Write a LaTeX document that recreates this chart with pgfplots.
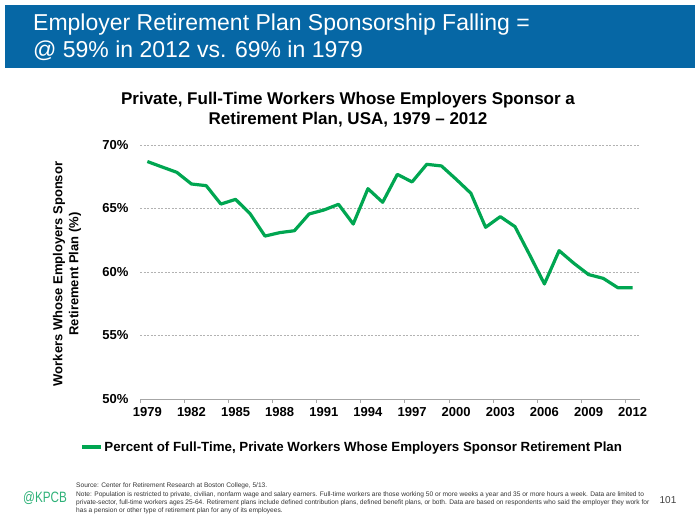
\documentclass[border=0pt]{standalone}
\usepackage{fontspec}
\setmainfont{Liberation Sans}
\usepackage{pgfplots}
\pgfplotsset{compat=1.18}
\definecolor{hdrblue}{RGB}{6,103,165}
\definecolor{lgreen}{RGB}{0,166,81}
\definecolor{kpcb}{RGB}{46,177,120}
\begin{document}
\begin{tikzpicture}
\path[use as bounding box] (0,0) rectangle (700bp,-525bp);
\fill[hdrblue] (5bp,-5bp) rectangle (695bp,-68bp);
\node[anchor=north west, align=left, text=white, inner sep=0pt,
  font=\fontsize{23bp}{27bp}\selectfont] at (33bp,-14bp)
  {Employer Retirement Plan Sponsorship Falling =\\@ 59\% in 2012 vs. 69\% in 1979};
\node[align=center, font=\bfseries\fontsize{17bp}{20bp}\selectfont, inner sep=0pt]
  at (348bp,-110bp) {Private, Full-Time Workers Whose Employers Sponsor a\\Retirement Plan, USA, 1979 -- 2012};
\node[rotate=90, align=center, font=\bfseries\fontsize{13bp}{16bp}\selectfont, inner sep=0pt]
  at (67bp,-274bp) {Workers Whose Employers Sponsor\\Retirement Plan (\%)};
\begin{axis}[
  at={(140bp,-399bp)}, anchor=south west,
  scale only axis, width=500bp, height=254bp,
  xmin=1978.5, xmax=2012.5, ymin=50, ymax=70,
  xtick={1979,1982,...,2012},
  xticklabels={1979,1982,1985,1988,1991,1994,1997,2000,2003,2006,2009,2012},
  ytick={50,55,60,65,70},
  yticklabel={\pgfmathprintnumber{\tick}\%},
  axis x line*=bottom, axis y line*=left,
  y axis line style={draw=none},
  x axis line style={-, draw=gray!70, line width=0.8bp},
  major tick length=0pt,
  extra x ticks={1978.5,1981.5,...,2011.5},
  extra x tick labels={},
  extra x tick style={major tick length=3.5bp, xtick align=outside, grid=none, tick style={draw=gray!70, line width=0.6bp}},
  ymajorgrids,
  grid style={dash pattern=on 2bp off 1.5bp, gray!60, line width=0.8bp},
  tick label style={font=\bfseries\fontsize{13bp}{15bp}\selectfont},
  /pgf/number format/assume math mode=true,
  yticklabel style={xshift=-8bp},
  xticklabel style={yshift=-5bp},
  legend style={draw=none, fill=none, at={(-0.12,-0.189)}, anchor=west,
    font=\bfseries\fontsize{13.3bp}{16bp}\selectfont, inner sep=0pt},
  legend image code/.code={\draw[#1] (0bp,0bp) -- (19bp,0bp);},
]
\addplot[lgreen, line width=3.2bp, line join=round] coordinates {
(1979,68.7) (1980,68.27) (1981,67.85) (1982,66.93) (1983,66.8) (1984,65.35)
(1985,65.72) (1986,64.57) (1987,62.83) (1988,63.1) (1989,63.25) (1990,64.57)
(1991,64.88) (1992,65.33) (1993,63.78) (1994,66.56) (1995,65.49) (1996,67.69)
(1997,67.09) (1998,68.48) (1999,68.35) (2000,67.3) (2001,66.2) (2002,63.52)
(2003,64.36) (2004,63.57) (2005,61.34) (2006,59.06) (2007,61.68) (2008,60.69)
(2009,59.8) (2010,59.5) (2011,58.76) (2012,58.76)};
\addlegendentry{Percent of Full-Time, Private Workers Whose Employers Sponsor Retirement Plan}
\end{axis}
\node[anchor=center, text=kpcb, inner sep=0pt, font=\fontsize{15bp}{18bp}\selectfont]
  at (45bp,-498bp) {\scalebox{0.78}[1]{@KPCB}};
\node[anchor=north west, align=left, inner sep=0pt, text=black!80,
  font=\fontsize{6.6bp}{8.1bp}\selectfont] at (76bp,-483bp)
  {Source: Center for Retirement Research at Boston College, 5/13.\\
   Note: Population is restricted to private, civilian, nonfarm wage and salary earners. Full-time workers are those working 50 or more weeks a year and 35 or more hours a week. Data are limited to\\
   private-sector, full-time workers ages 25-64. Retirement plans include defined contribution plans, defined benefit plans, or both. Data are based on respondents who said the employer they work for\\
   has a pension or other type of retirement plan for any of its employees.};
\node[text=black!75, inner sep=0pt, font=\fontsize{10bp}{12bp}\selectfont] at (668bp,-500bp) {101};
\end{tikzpicture}
\end{document}
